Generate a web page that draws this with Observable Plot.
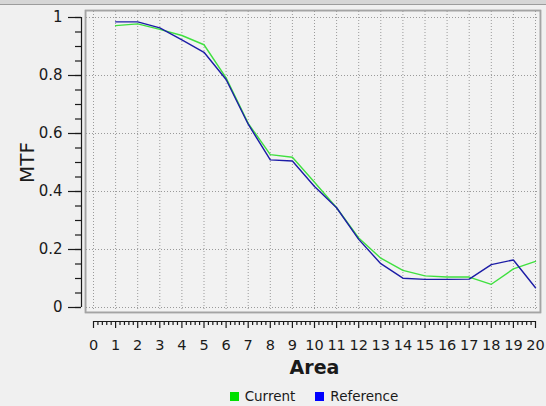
<!DOCTYPE html>
<html><head><meta charset="utf-8">
<script src="https://cdn.jsdelivr.net/npm/d3@7"></script>
<script src="https://cdn.jsdelivr.net/npm/@observablehq/plot@0.6"></script>
<style>
html,body{margin:0;padding:0;background:#f0f0f0;width:546px;height:406px;overflow:hidden;font-family:"DejaVu Sans",sans-serif;}
#bar{height:4px;background:#d6d6d6;border-bottom:1px solid #9c9c9c;}
#chart svg{display:block;}
#legend{margin-left:93px;width:442px;height:20px;display:flex;justify-content:center;align-items:center;font-size:13.5px;color:#1a1a1a;}
#legend .sw{display:inline-block;width:9px;height:9px;margin-right:6px;}
#legend .item{display:flex;align-items:center;margin:0 10px;}
</style>
</head><body>
<div id="bar"></div>
<div id="chart"></div>
<div id="legend"></div>
<script>
const area = [1,2,3,4,5,6,7,8,9,10,11,12,13,14,15,16,17,18,19,20];
const current   = [0.972,0.978,0.959,0.938,0.906,0.792,0.635,0.527,0.518,0.432,0.344,0.240,0.170,0.128,0.109,0.105,0.105,0.080,0.133,0.159];
const reference = [0.985,0.985,0.964,0.923,0.880,0.786,0.632,0.509,0.505,0.417,0.344,0.235,0.151,0.101,0.097,0.097,0.098,0.148,0.164,0.068];
const seriesNames = ["Current","Reference"];
const seriesColors = ["#3fe03f","#1c1ca6"];
const legendColors = ["#00e000","#0000ff"];
const xTicks = [0,1,2,3,4,5,6,7,8,9,10,11,12,13,14,15,16,17,18,19,20];
const yTicks = [0,0.2,0.4,0.6,0.8,1];
const yTickLabels = ["0","0.2","0.4","0.6","0.8","1"];
const xMinor = d3.range(0, 100).map(i => i / 5).filter(v => !Number.isInteger(v));
const yMinor = d3.range(0, 21).map(i => i / 20);

const rows = area.map((a, i) => ({a, v: current[i], s: seriesNames[0]}))
  .concat(area.map((a, i) => ({a, v: reference[i], s: seriesNames[1]})));

const chart = Plot.plot({
  width: 546, height: 381,
  marginLeft: 93, marginRight: 11, marginTop: 12, marginBottom: 79,
  style: {background: "transparent", fontFamily: "DejaVu Sans", fontSize: "14px", color: "#1a1a1a", overflow: "visible"},
  x: {domain: [0, 20]},
  y: {domain: [0, 1]},
  marks: [
    Plot.frame({fill: "#f2f2f2", stroke: "#ffffff", strokeWidth: 1, insetLeft: -9, insetRight: -6, insetTop: -8, insetBottom: -6}),
    Plot.frame({fill: "none", stroke: "#a4a4a4", strokeWidth: 2, insetLeft: -8, insetRight: -5, insetTop: -7, insetBottom: -5}),
    Plot.gridX(xTicks, {stroke: "#9a9a9a", strokeOpacity: 1, strokeDasharray: "1,2", insetTop: -6, insetBottom: -4}),
    Plot.gridY(yTicks, {stroke: "#9a9a9a", strokeOpacity: 1, strokeDasharray: "1,2", insetLeft: -7, insetRight: -4}),
    Plot.ruleX([0], {y1: 0, y2: 1, dx: -12, stroke: "#1a1a1a", strokeWidth: 1.2}),
    Plot.axisY(yTicks, {anchor: "left", dx: -12, tickSize: 13, tickPadding: 6, fontSize: 15, tickFormat: d => yTickLabels[yTicks.indexOf(d)], label: null, stroke: "#1a1a1a", strokeWidth: 1.2}),
    Plot.axisY(yMinor, {anchor: "left", dx: -12, tickSize: 6, tickFormat: () => "", label: null, stroke: "#1a1a1a", strokeWidth: 1.2}),
    Plot.ruleY([0], {x1: 0, x2: 20, dy: 14, stroke: "#1a1a1a", strokeWidth: 1.2}),
    Plot.axisX(xTicks, {anchor: "bottom", dy: 14, tickSize: 7, tickPadding: 11, fontSize: 14.5, label: null, stroke: "#1a1a1a", strokeWidth: 1.2}),
    Plot.axisX(xMinor, {anchor: "bottom", dy: 14, tickSize: 4, tickFormat: () => "", label: null, stroke: "#1a1a1a", strokeWidth: 1.2}),
    Plot.line(rows.filter(d => d.s === seriesNames[0]), {x: "a", y: "v", stroke: seriesColors[0], strokeWidth: 1.4}),
    Plot.line(rows.filter(d => d.s === seriesNames[1]), {x: "a", y: "v", stroke: seriesColors[1], strokeWidth: 1.4}),
    Plot.text(["MTF"], {frameAnchor: "left", textAnchor: "middle", dx: -66, rotate: -90, fontSize: 20, fill: "#1a1a1a"}),
    Plot.text(["Area"], {frameAnchor: "bottom", dy: 66, fontSize: 19, fontWeight: "bold", fill: "#1a1a1a"})
  ]
});
document.getElementById("chart").appendChild(chart);

const legend = document.getElementById("legend");
seriesNames.forEach((n, i) => {
  const item = document.createElement("span");
  item.className = "item";
  item.innerHTML = `<span class="sw" style="background:${legendColors[i]}"></span>${n}`;
  legend.appendChild(item);
});
</script>
</body></html>
